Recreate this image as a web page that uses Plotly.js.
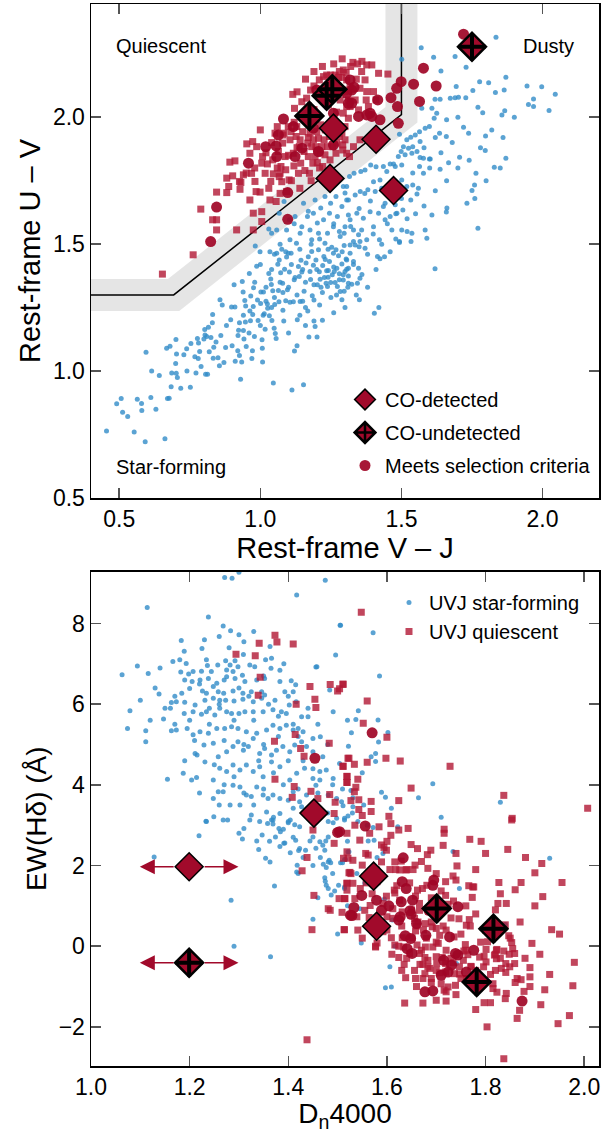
<!DOCTYPE html>
<html><head><meta charset="utf-8">
<script src="https://cdn.plot.ly/plotly-3.0.1.min.js"></script>
<style>html,body{margin:0;padding:0;background:#fff}#chart{width:615px;height:1133px}</style>
</head><body><div id="chart"></div>
<script>
// ---------------- DATA ----------------
// Top panel: rest-frame V-J (x) vs U-V (y), pairs [VJ, UV]
const uvjStarForming = [
[0.455,0.764],[0.491,0.871],[0.507,0.892],[0.512,0.838],[0.530,0.821],[0.553,0.760],[0.564,0.889],[0.579,0.872],[0.580,0.845],[0.592,0.722],[0.595,1.074],[0.615,1.000],[0.612,0.896],[0.630,0.850],[0.642,0.983],[0.662,0.733],[0.671,0.892],[0.677,0.893],[0.668,1.090],[0.680,1.098],[0.686,0.992],[0.684,0.938],[0.701,1.124],[0.702,0.991],[0.706,0.975],[0.703,1.067],[0.718,0.932],[0.729,1.064],[0.739,1.088],[0.752,0.936],[0.754,1.109],[0.768,1.056],[0.772,0.992],[0.777,1.128],[0.781,1.111],[0.785,1.077],[0.790,1.018],[0.800,1.126],[0.803,1.164],[0.806,0.987],[0.813,0.987],[0.816,1.173],[0.804,1.142],[0.810,1.136],[0.819,1.076],[0.825,1.132],[0.831,1.223],[0.833,1.051],[0.835,1.094],[0.843,1.115],[0.850,1.052],[0.855,1.021],[0.857,1.281],[0.865,1.260],[0.871,1.034],[0.877,1.093],[0.895,1.202],[0.898,1.252],[0.907,1.340],[0.910,1.252],[0.911,1.039],[0.921,1.140],[0.926,1.061],[0.923,1.161],[0.926,1.190],[0.930,0.968],[0.934,1.036],[0.936,1.353],[0.939,1.311],[0.940,1.160],[0.942,1.126],[0.945,1.278],[0.947,1.193],[0.948,1.256],[0.950,1.097],[0.961,1.384],[0.963,1.237],[0.965,1.198],[0.966,1.296],[0.972,1.080],[0.973,1.223],[0.975,1.254],[0.976,1.328],[0.979,1.136],[0.982,1.493],[0.987,1.413],[0.992,1.199],[0.999,1.470],[1.001,1.266],[1.002,1.311],[1.006,1.123],[1.007,1.090],[1.008,1.036],[1.011,1.311],[1.014,1.226],[1.017,1.165],[1.020,1.275],[1.025,1.264],[1.026,1.247],[1.030,1.384],[1.032,1.218],[1.034,1.470],[1.037,1.363],[1.039,1.341],[1.041,1.199],[1.044,1.316],[1.046,0.953],[1.049,1.169],[1.051,1.262],[1.053,1.148],[1.056,1.128],[1.058,1.464],[1.062,1.421],[1.064,1.317],[1.066,1.273],[1.067,1.438],[1.072,1.387],[1.076,1.480],[1.079,1.346],[1.083,1.197],[1.086,1.401],[1.090,1.277],[1.093,1.449],[1.096,1.320],[1.099,1.464],[1.103,1.390],[1.105,1.271],[1.109,1.464],[1.112,0.925],[1.117,1.273],[1.121,1.079],[1.123,1.369],[1.128,1.504],[1.131,1.202],[1.135,1.412],[1.138,1.373],[1.141,1.274],[1.144,1.437],[1.147,1.390],[1.150,1.275],[1.153,0.946],[1.155,1.314],[1.162,1.426],[1.168,1.237],[1.172,1.134],[1.176,1.392],[1.178,1.361],[1.182,1.471],[1.184,1.297],[1.188,1.417],[1.190,1.197],[1.194,1.176],[1.197,1.438],[1.201,1.134],[1.202,1.340],[1.206,1.478],[1.209,1.391],[1.212,1.362],[1.215,1.330],[1.221,1.416],[1.225,1.451],[1.227,1.369],[1.229,1.504],[1.233,1.346],[1.235,1.395],[1.238,1.333],[1.241,1.396],[1.245,1.432],[1.249,1.349],[1.253,1.488],[1.255,1.379],[1.259,1.464],[1.262,1.392],[1.265,1.349],[1.268,1.478],[1.271,1.405],[1.273,1.333],[1.277,1.454],[1.280,1.383],[1.283,1.313],[1.289,1.422],[1.294,1.359],[1.297,1.495],[1.300,1.392],[1.304,1.441],[1.306,1.401],[1.312,1.375],
[1.040,1.543],[1.058,1.556],[1.067,1.622],[1.084,1.668],[1.093,1.556],[1.103,1.596],[1.105,1.517],[1.123,1.609],[1.141,1.543],[1.147,1.569],[1.153,1.661],[1.167,1.609],[1.176,1.556],[1.182,1.517],[1.188,1.622],[1.194,1.674],[1.202,1.583],[1.206,1.543],[1.214,1.642],[1.224,1.596],[1.229,1.688],[1.238,1.543],[1.245,1.622],[1.249,1.661],[1.259,1.569],[1.268,1.688],[1.273,1.609],[1.283,1.530],[1.289,1.648],[1.294,1.727],[1.300,1.569],[1.306,1.674],[1.312,1.615],[1.316,1.766],
[1.570,2.274],[1.501,2.228],[1.614,2.236],[1.690,2.239],[1.835,2.315],[1.729,2.197],[1.640,2.182],[1.694,2.121],[1.777,2.140],[1.809,2.136],[1.870,2.157],[1.833,2.097],[1.864,2.107],[1.945,2.123],[1.997,2.120],[2.045,2.090],[1.968,2.072],[1.968,2.042],[2.023,2.026],[1.753,2.105],[1.619,2.071],[1.637,2.071],[1.673,2.075],[1.690,2.077],[1.702,2.079],[1.728,2.077],[1.771,2.039],[1.788,2.018],[1.856,2.009],[1.866,2.025],[1.572,2.035],[1.608,2.035],[1.625,2.016],[1.616,1.996],[1.599,1.963],[1.584,1.957],[1.564,1.943],[1.549,1.930],[1.533,1.921],[1.519,1.911],[1.507,1.884],[1.493,1.933],[1.499,1.865],[1.525,1.878],[1.540,1.884],[1.566,1.904],[1.635,1.937],[1.659,1.924],[1.738,1.937],[1.798,1.926],[1.797,1.869],[1.870,1.838],[1.829,1.803],[1.764,1.779],[1.759,1.733],[1.750,1.711],[1.732,1.661],[1.771,1.563],[1.706,1.842],[1.667,1.821],[1.637,1.795],[1.602,1.835],[1.578,1.838],[1.564,1.806],[1.555,1.865],[1.537,1.858],[1.513,1.852],[1.489,1.845],[1.472,1.816],[1.448,1.786],[1.436,1.806],[1.424,1.753],[1.401,1.746],[1.381,1.714],[1.391,1.812],[1.371,1.792],[1.356,1.786],[1.332,1.779],[1.306,1.727],[1.300,1.701],[1.312,1.674],[1.336,1.694],[1.354,1.707],[1.407,1.707],[1.442,1.661],[1.478,1.655],[1.501,1.753],[1.519,1.727],[1.540,1.733],[1.555,1.698],[1.533,1.674],[1.505,1.635],[1.484,1.622],[1.460,1.609],[1.436,1.648],[1.419,1.622],[1.389,1.628],[1.365,1.602],[1.342,1.622],[1.318,1.596],[1.297,1.543],[1.330,1.556],[1.359,1.556],[1.401,1.569],[1.442,1.596],[1.466,1.556],[1.501,1.556],[1.537,1.543],[1.584,1.556],[1.590,1.523],[1.608,1.615],[1.661,1.642],[1.659,1.627],[1.493,1.510],[1.422,1.517],[1.377,1.517],[1.348,1.537],[1.318,1.497],[1.371,1.484],[1.410,1.805],[1.460,1.816],[1.478,1.806],[1.501,1.812],[1.578,1.779],[1.599,1.835],[1.566,1.841],
[1.493,1.506],[1.534,1.510],[1.415,1.451],[1.424,1.442],[1.619,1.403],[1.306,1.438],[1.330,1.432],[1.312,1.405],[1.348,1.405],[1.353,1.366],[1.294,1.379],[1.312,1.346],[1.324,1.342],[1.344,1.346],[1.297,1.314],[1.289,1.281],[1.351,1.281],[1.404,1.228],[1.318,1.464],[1.336,1.497],[1.353,1.510],
[0.98,1.35],[1.00,1.42],[1.02,1.33],[1.04,1.40],[1.05,1.29],[1.07,1.35],[1.08,1.24],[1.10,1.33],[1.11,1.42],[1.13,1.30],[1.14,1.22],[1.16,1.35],[1.17,1.45],[1.19,1.28],[1.20,1.40],[1.22,1.31],[1.23,1.44],[1.25,1.29],[1.26,1.41],[1.28,1.36],[1.29,1.47],[1.31,1.33],[1.33,1.42],[1.35,1.49],[1.36,1.38],[1.38,1.46],[1.40,1.54],[1.41,1.40],[1.43,1.50],[1.45,1.58],[1.46,1.47],[1.48,1.62],[1.50,1.68],[1.52,1.60],[1.54,1.78],[1.56,1.72],[1.58,1.88],[1.60,1.80],[1.62,1.92],[1.64,1.86],[1.66,1.99],[1.68,1.90],[1.70,2.00],[1.72,1.96],[1.10,1.15],[1.13,1.10],[1.16,1.18],[1.22,1.20],[1.26,1.23],[1.30,1.25],[1.34,1.30],[1.38,1.33],[1.00,1.18],[0.97,1.05],[0.90,1.10],[0.88,1.18],[0.94,1.22],[0.99,1.28],[1.03,1.56],[1.07,1.50],[1.12,1.58],[1.17,1.63],[1.21,1.52],[1.26,1.58],[1.32,1.57],[1.35,1.64],[1.37,1.70],[1.39,1.67],[1.43,1.72],[1.46,1.69],[1.33,1.51],[1.28,1.55],[1.24,1.48],[1.18,1.50],[1.14,1.48],[1.09,1.47],[1.05,1.46],[1.15,1.40],[1.19,1.34],[1.24,1.37],[1.27,1.30],[1.21,1.26],[1.16,1.25],[1.12,1.36],[1.08,1.31],[1.04,1.25],[1.01,1.22],[0.96,1.15],[0.92,1.08],[0.86,1.14],[0.83,1.19],[0.78,1.05],[0.74,1.00],[0.70,1.03],[1.44,1.45],[1.48,1.52],[1.52,1.55],[1.55,1.62],[1.58,1.65],[1.62,1.71],[1.66,1.75],[1.70,1.80],[1.74,1.83],[1.78,1.88],[1.82,1.95],[1.86,1.92],[1.90,2.00],[1.95,2.05],[1.76,1.68],[1.80,1.75],[1.85,1.80],[1.42,1.25]
];
const uvjQuiescent = [
[0.789,1.638],[0.831,1.596],[0.845,1.705],[0.845,1.596],[0.881,1.703],[0.888,1.727],[0.892,1.823],[0.902,1.769],[0.910,1.828],[0.928,1.716],[0.931,1.743],[0.940,1.773],[0.952,1.895],[0.963,1.674],[0.969,1.779],[0.973,1.904],[0.975,1.622],[0.985,1.707],[0.987,1.884],[0.999,1.705],[1.005,1.628],[1.005,1.819],[1.008,1.845],[1.017,1.779],[1.025,1.816],[1.034,1.674],[1.044,1.832],[1.046,1.777],[1.052,1.937],[1.056,1.668],[1.060,1.963],[1.064,1.865],[1.067,1.766],[1.070,1.779],[1.076,1.746],[1.079,1.898],[1.084,1.937],[1.088,1.845],[1.093,1.707],[1.099,1.963],[1.102,1.753],[1.105,1.911],[1.109,1.943],[1.115,2.090],[1.117,1.858],[1.119,1.808],[1.121,2.035],[1.127,1.924],[1.129,1.963],[1.135,1.779],[1.138,1.884],[1.141,1.911],[1.143,1.819],[1.147,2.061],[1.150,1.943],[1.155,1.865],[1.158,1.790],[1.164,2.075],[1.168,1.898],[1.170,1.845],[1.174,1.779],[1.176,1.937],[1.178,2.107],[1.182,1.884],[1.186,1.819],[1.188,1.911],[1.190,2.123],[1.194,1.845],[1.197,1.884],[1.200,1.943],[1.202,1.821],[1.206,1.917],[1.209,2.147],[1.212,1.858],[1.214,1.970],[1.218,1.884],[1.221,1.806],[1.224,2.160],[1.226,1.911],[1.229,1.852],[1.235,2.166],[1.238,1.884],[1.241,2.048],[1.245,1.924],[1.247,1.832],[1.249,2.166],[1.257,1.884],[1.259,2.147],[1.261,1.924],[1.265,2.166],[1.268,1.858],[1.271,1.898],[1.277,2.157],[1.280,1.924],[1.283,2.068],[1.289,2.157],[1.292,1.871],[1.294,2.107],[1.300,1.963],[1.304,2.176],[1.306,2.042],[1.312,2.068],[1.316,1.845],[0.881,1.760],[0.926,1.747],[0.963,1.858],[0.981,1.747],[1.037,1.747],[1.073,1.806],[1.090,1.793],[0.975,1.556],[0.845,1.556],[1.005,1.589],[0.916,1.556],
[1.328,2.216],[1.344,2.210],[1.359,2.180],[1.377,2.206],[1.395,2.206],[1.419,2.173],[1.452,2.170],[1.371,2.147],[1.294,2.186],[1.306,2.147],[1.318,2.121],[1.353,2.114],[1.377,2.101],[1.401,2.101],[1.375,2.068],[1.410,2.068],[1.336,2.068],[1.318,2.042],[1.294,2.016],[1.348,2.029],[1.383,2.042],[1.312,1.996],[1.289,1.937],[1.330,1.884],[1.306,1.858],[1.353,1.911],[1.300,1.911],[1.292,1.891],
[0.762,1.458],[0.653,1.382],
[1.02,1.86],[1.04,1.90],[1.06,1.80],[1.08,1.93],[1.10,1.85],[1.12,1.98],[1.13,1.88],[1.15,2.00],[1.17,1.92],[1.19,2.03],[1.20,1.87],[1.22,2.08],[1.23,1.95],[1.25,2.12],[1.27,2.02],[1.28,2.18],[1.30,2.10],[1.32,2.20],[1.34,2.15],[1.36,2.22],[1.13,2.10],[1.16,2.15],[1.19,2.18],[1.22,2.20],[1.26,2.21],[1.29,2.23],[0.98,1.80],[0.95,1.78],[1.00,1.95],[1.03,1.72],[1.07,1.70],[1.11,1.75],[1.14,1.72],[1.18,1.75],[1.21,1.80]
];
const uvjSelected = [
[0.824,1.510],[0.845,1.646],[0.958,1.819],[1.082,1.993],[1.019,1.884],[1.056,1.887],[1.064,1.930],[1.097,1.703],[1.097,1.598],[1.117,1.963],[1.188,1.957],[1.259,1.891],[1.206,1.865],[1.148,1.878],[1.058,1.845],[1.123,1.845],[1.200,2.107],[1.312,2.055],[1.259,2.016],
[1.720,2.327],[1.578,2.193],[1.623,2.123],[1.543,2.130],[1.499,2.140],[1.483,2.114],[1.463,2.077],[1.564,2.062],[1.486,2.042],[1.489,1.976],[1.416,2.068],[1.389,2.016],[1.424,1.990],[1.395,2.003],[1.318,2.147],[1.324,2.107],[1.332,2.118],[1.348,2.003],[1.306,2.094],[1.324,2.055],[1.377,2.009]
];
const uvjCoDetected = [[1.259,1.957],[1.247,1.759],[1.410,1.913],[1.472,1.711]];
const uvjCoUndetected = [[1.174,2.005],[1.235,2.085],[1.255,2.110],[1.750,2.278]];
// Quiescent selection boundary (U-V > 1.3, U-V > 0.88(V-J)+0.69, V-J < 1.5)
const boundaryVJ = [0.3, 0.693, 1.5, 1.5];
const boundaryUV = [1.3, 1.3, 2.01, 2.6];

// Bottom panel: Dn4000 (x) vs EW(Hdelta) (y), pairs [Dn4000, EW]
const specStarForming = [
[1.271,9.14],[1.286,9.12],[1.300,9.27],[1.475,9.07],[1.417,8.71],[1.114,8.40],[1.238,8.16],[1.505,7.96],[1.268,7.94],[1.283,7.82],[1.260,7.68],[1.300,7.72],[1.183,7.58],[1.310,7.55],[1.363,7.43],[1.225,7.38],[1.189,7.31],[1.309,7.23],[1.292,7.08],[1.273,7.08],[1.094,6.95],[1.166,7.06],[1.193,7.01],[1.234,7.10],[1.257,6.97],[1.282,6.97],[1.298,6.93],[1.322,6.97],[1.354,7.10],[1.366,7.14],[1.391,7.00],[1.383,6.84],[1.236,6.96],[1.063,6.73],[1.116,6.76],[1.182,6.80],[1.198,6.75],[1.207,6.81],[1.224,6.82],[1.244,6.81],[1.275,6.85],[1.288,6.81],[1.307,6.72],[1.332,6.93],[1.365,6.89],[1.456,6.92],[1.458,6.93],[1.496,7.22],[1.190,6.60],[1.205,6.56],[1.221,6.60],[1.238,6.64],[1.255,6.52],[1.275,6.68],[1.292,6.64],[1.312,6.56],[1.336,6.60],[1.352,6.64],[1.383,6.56],[1.406,6.58],[1.415,6.48],[1.138,6.25],[1.184,6.27],[1.200,6.39],[1.226,6.33],[1.234,6.27],[1.248,6.44],[1.258,6.31],[1.269,6.27],[1.288,6.33],[1.308,6.27],[1.325,6.31],[1.346,6.31],[1.352,6.23],[1.393,6.31],[1.410,6.31],[1.484,6.35],[1.079,5.84],[1.163,6.04],[1.173,6.06],[1.190,6.05],[1.211,5.98],[1.231,6.10],[1.248,6.15],[1.261,6.10],[1.273,6.10],[1.290,6.08],[1.308,6.12],[1.329,6.06],[1.346,6.15],[1.373,6.10],[1.402,5.98],[1.416,6.06],[1.491,5.81],[1.074,5.40],[1.111,5.34],[1.147,5.63],[1.161,5.90],[1.189,5.77],[1.207,5.81],[1.224,5.75],[1.234,5.81],[1.251,5.73],[1.261,5.90],[1.275,5.81],[1.285,5.77],[1.300,5.77],[1.312,5.81],[1.329,5.81],[1.349,5.81],[1.369,5.86],[1.386,5.81],[1.396,5.77],[1.427,5.69],[1.440,5.69],[1.163,5.34],[1.173,5.36],[1.195,5.40],[1.207,5.24],[1.221,5.32],[1.238,5.28],[1.255,5.40],[1.271,5.40],[1.285,5.44],[1.298,5.40],[1.315,5.32],[1.336,5.28],[1.356,5.36],[1.369,5.48],[1.383,5.40],[1.396,5.48],[1.410,5.36],[1.420,5.40],[1.430,5.32],[1.450,5.15],[1.465,5.19],[1.111,5.07],[1.211,4.78],[1.215,4.74],[1.229,4.99],[1.248,5.03],[1.258,4.70],[1.275,4.82],[1.288,4.95],[1.298,5.07],[1.309,4.86],[1.319,4.95],[1.329,5.15],[1.342,4.78],[1.352,4.90],[1.366,4.74],[1.376,4.86],[1.389,4.95],[1.403,4.82],[1.413,4.99],[1.427,5.07],[1.437,4.95],[1.450,4.82],[1.155,4.14],[1.187,4.29],[1.204,4.12],[1.214,4.18],[1.231,4.57],[1.248,4.12],[1.261,4.41],[1.275,4.33],[1.288,4.49],[1.302,4.37],[1.315,4.49],[1.329,4.33],[1.342,4.45],[1.349,4.20],[1.366,4.57],[1.383,4.45],[1.403,4.12],[1.417,4.29],[1.433,4.41],[1.450,4.16],[1.464,4.33],[1.477,4.37],[1.491,4.16],[1.504,4.53],[1.248,3.66],[1.258,3.83],[1.268,3.83],[1.288,3.99],[1.302,3.95],[1.315,3.75],[1.325,3.71],[1.336,3.95],[1.349,3.75],[1.359,3.66],[1.369,3.75],[1.383,3.66],[1.400,3.62],[1.410,3.83],[1.423,3.58],[1.437,3.75],[1.456,3.99],[1.464,4.12],[1.481,3.75],[1.498,3.66],[1.508,3.58],[1.234,3.09],[1.249,3.21],[1.268,3.13],[1.282,3.50],[1.302,3.50],[1.325,3.25],[1.342,3.09],[1.356,3.33],[1.369,3.13],[1.383,3.29],[1.400,3.09],[1.410,3.42],[1.427,3.46],[1.444,3.17],[1.481,3.09],[1.498,3.17],
[1.506,7.96],[1.572,7.77],[1.585,6.70],[1.542,5.84],[1.537,5.62],[1.582,5.61],[1.528,5.29],[1.602,5.30],[1.583,5.06],[1.522,4.96],[1.577,4.78],[1.568,4.70],[1.577,4.58],[1.693,4.03],[1.589,3.82],[1.597,3.69],[1.664,3.68],[1.830,3.57],[1.710,3.20],[1.527,3.86],[1.531,3.68],[1.511,3.48],[1.553,3.50],[1.531,3.46],[1.609,3.42],[1.514,3.17],[1.521,3.23],
[1.233,3.10],[1.277,3.13],[1.322,3.13],[1.366,3.13],[1.400,3.06],[1.404,3.13],[1.219,2.74],[1.310,2.92],[1.307,2.66],[1.336,2.61],[1.347,2.76],[1.358,3.04],[1.369,3.03],[1.381,2.92],[1.384,2.84],[1.362,2.60],[1.374,2.71],[1.383,2.47],[1.391,2.55],[1.393,2.56],[1.404,2.32],[1.413,3.01],[1.423,2.96],[1.415,2.63],[1.423,2.42],[1.421,2.37],[1.435,2.38],[1.444,2.61],[1.450,2.71],[1.456,2.43],[1.464,2.59],[1.476,2.61],[1.474,2.38],[1.481,2.71],[1.481,2.09],[1.483,2.13],[1.491,3.06],[1.465,2.20],[1.471,2.03],[1.477,1.95],[1.486,2.07],[1.506,2.07],[1.521,2.34],[1.514,2.15],[1.354,2.18],[1.363,2.09],[1.418,2.01],[1.417,1.84],[1.420,1.80],[1.474,1.70],[1.475,1.61],[1.477,1.51],[1.481,1.43],[1.487,1.27],[1.494,1.37],[1.502,1.51],[1.514,1.47],[1.372,1.49],[1.284,1.14],[1.450,0.67],[1.128,2.21],[1.290,0.00],[1.364,-0.26],
[1.514,3.13],[1.541,3.09],[1.572,2.94],[1.574,2.63],[1.562,2.61],[1.592,2.30],[1.596,2.42],[1.523,2.34],[1.510,2.07],[1.516,2.15],[1.539,1.80],[1.552,1.76],[1.555,1.57],[1.514,1.43],[1.545,0.93],[1.622,2.96],[1.734,2.35],[1.747,1.43],[1.930,2.18],[1.595,1.17],[1.611,0.65],[1.548,0.08],[1.616,0.00],[1.606,-0.51],[1.597,-1.03],[1.609,-1.01],[1.840,0.54],[1.741,-0.43],
[1.17,6.2],[1.20,5.6],[1.22,6.5],[1.24,5.5],[1.26,6.0],[1.27,5.1],[1.29,5.6],[1.30,6.4],[1.31,5.0],[1.33,5.6],[1.34,4.6],[1.35,5.0],[1.36,6.0],[1.37,4.3],[1.38,5.2],[1.39,4.0],[1.40,4.6],[1.41,5.5],[1.42,3.9],[1.43,4.6],[1.44,3.4],[1.45,4.4],[1.46,3.8],[1.47,4.7],[1.48,3.3],[1.49,4.0],[1.50,2.8],[1.51,3.9],[1.52,2.6],[1.53,3.3],[1.25,4.5],[1.27,4.0],[1.29,4.2],[1.31,3.8],[1.33,3.5],[1.35,3.9],[1.37,3.2],[1.39,2.9],[1.41,2.7],[1.43,2.2],[1.45,2.0],[1.47,2.5],[1.49,1.8],[1.24,5.9],[1.21,5.1],[1.19,4.6],[1.17,5.5],[1.15,5.9],[1.13,6.4],[1.10,6.1],[1.12,5.6],[1.14,6.9],[1.18,7.1],[1.23,7.6],[1.28,7.4],[1.33,7.8],[1.27,6.6],[1.32,6.2],[1.35,6.7],[1.38,5.7],[1.40,6.2],[1.42,5.2],[1.44,5.9],[1.46,5.5],[1.48,5.0],[1.52,5.6],[1.55,4.3],[1.56,3.0],[1.58,2.2],[1.34,2.4],[1.30,2.8],[1.26,3.5],[1.22,3.8],[1.46,1.2],[1.52,1.0],[1.56,0.5],[1.50,0.3]
];
const specQuiescent = [
[1.373,7.71],[1.377,7.54],[1.341,7.51],[1.410,7.49],[1.294,7.24],[1.333,7.20],[1.343,6.67],[1.444,6.44],[1.485,6.49],[1.511,6.49],[1.500,6.33],[1.339,6.22],[1.454,6.12],[1.416,6.00],[1.456,5.92],[1.372,5.08],[1.414,5.25],[1.425,4.90],[1.483,5.03],[1.432,4.71],[1.521,4.66],[1.511,4.46],[1.519,4.21],[1.519,4.06],[1.373,4.14],[1.412,3.96],[1.408,3.69],[1.446,3.84],[1.460,3.66],[1.484,3.76],[1.495,3.57],[1.493,3.29],
[1.548,8.28],[1.511,6.50],[1.504,6.38],[1.560,6.08],[1.552,5.53],[1.600,5.18],[1.523,4.66],[1.534,4.51],[1.560,4.56],[1.598,4.66],[1.627,4.59],[1.728,4.46],[1.511,4.46],[1.519,4.21],[1.541,4.14],[1.519,4.06],[1.537,3.94],[1.534,3.83],[1.649,3.92],[1.837,3.74],[1.527,3.61],[1.543,3.63],[1.568,3.59],[1.624,3.61],[1.543,3.39],[1.568,3.34],[1.550,3.24],[1.604,3.22],[2.007,3.42],[1.854,3.17],
[1.450,2.88],[1.493,2.55],[1.438,2.20],[1.428,1.87],[1.452,1.26],[1.503,1.18],[1.515,1.18],[1.481,0.93],[1.485,0.89],[1.509,0.84],[1.448,0.41],[1.513,0.41],[1.521,2.18],[1.523,1.82],[1.519,1.56],[1.519,1.39],[1.438,-2.32],[1.519,2.80],
[1.535,3.00],[1.565,2.80],[1.584,2.96],[1.608,3.04],[1.608,2.75],[1.624,2.88],[1.643,2.92],[1.716,2.90],[1.716,2.80],[1.853,3.13],[1.768,2.65],[1.791,2.60],[1.649,2.52],[1.662,2.42],[1.714,2.50],[1.682,2.27],[1.689,2.38],[1.845,2.40],[1.881,2.20],[1.914,2.05],[1.900,1.82],[1.872,1.58],[1.827,1.58],[1.955,1.58],[1.916,1.23],[1.934,0.41],[1.894,0.07],[1.977,-0.98],[1.970,-1.72],[1.947,-1.92],[1.912,-1.45],[1.920,-1.08],[1.890,-0.53],[1.890,-0.76],[1.878,-1.12],[1.864,-0.80],[1.872,-0.83],[1.869,-1.59],[1.864,-1.79],[1.842,-1.17],[1.823,-1.14],[1.815,-1.05],[1.803,-2.00],[1.797,-1.40],[1.837,-2.79],[1.841,-0.65],[1.841,-0.43],[1.859,-0.18],[1.848,-0.20],[1.837,-0.12],[1.822,-0.10],[1.818,-0.22],[1.797,-0.25],[1.822,-0.31],[1.853,0.09],[1.847,0.26],[1.840,0.53],[1.823,-0.08],[1.804,0.11],[1.801,-0.08],[1.842,1.06],[1.825,1.06],[1.773,1.21],[1.774,1.47],[1.776,1.47],[1.766,1.50],[1.740,1.64],[1.734,1.74],[1.719,1.60],[1.742,1.99],[1.710,1.37],[1.735,1.12],[1.719,1.26],[1.724,1.04],[1.746,0.68],[1.767,0.66],[1.769,0.50],[1.761,0.52],[1.759,0.04],[1.756,-0.12],[1.764,-0.21],[1.736,0.23],[1.707,0.27],[1.700,0.44],[1.692,0.48],[1.714,0.50],[1.678,0.56],[1.674,0.40],[1.663,0.60],[1.658,0.38],[1.651,0.21],[1.631,0.21],[1.624,0.00],[1.624,-0.28],[1.635,-0.45],[1.638,-0.78],[1.658,-0.80],[1.667,-0.45],[1.677,-0.28],[1.683,-0.35],[1.687,-0.55],[1.673,-0.80],[1.690,-0.80],[1.700,-0.26],[1.701,-0.43],[1.712,-0.28],[1.719,-0.43],[1.734,-0.41],[1.700,-1.34],[1.716,-1.09],[1.720,-1.36],[1.739,-0.97],[1.747,-0.69],[1.761,-0.80],[1.780,-1.57],[1.636,-1.41],[1.673,-1.41],[1.634,-0.02],[1.616,0.03],[1.609,0.21],[1.592,0.36],[1.577,-0.02],[1.580,0.08],[1.541,0.40],[1.514,0.41],[1.539,0.73],[1.564,0.71],[1.600,0.73],[1.612,0.69],[1.656,0.69],[1.666,0.89],[1.666,1.06],[1.658,1.24],[1.662,1.39],[1.672,1.43],[1.681,1.51],[1.646,1.57],[1.615,1.39],[1.616,1.32],[1.599,1.24],[1.592,1.06],[1.566,1.01],[1.555,0.89],[1.535,1.18],[1.514,1.18],[1.519,1.56],[1.527,1.80],[1.531,1.56],[1.546,1.43],[1.558,1.57],[1.579,1.89],[1.606,1.90],[1.618,1.90],[1.626,1.89],[1.639,1.89],[1.653,1.90],[1.657,2.01],[1.683,1.93],[1.629,2.11],[1.616,2.09],[1.599,2.38],[1.594,2.45],[1.589,2.51],[1.562,2.26],[1.557,2.30],[1.550,2.01],[1.525,1.83],[1.512,2.18],[1.531,2.13],[1.545,2.63],[1.519,2.34],[1.589,2.09],[1.626,1.14],[1.612,0.93],[1.631,0.85],[1.584,0.55],[1.577,0.00],[1.788,-0.27],[1.796,-0.51],[1.801,-0.39],[1.820,-0.60],[1.832,-0.55],[1.849,-0.51],[1.855,-0.06],[1.859,-0.43],[1.784,-0.80],[1.815,-0.93],[1.710,-0.93],[1.737,-0.68],[1.677,-0.68],[1.656,-0.60],[1.693,-0.02],[1.704,0.07],[1.678,-0.02],[1.661,0.03],[1.646,-0.18],[1.666,-0.18],[1.683,-0.51],[1.673,-0.45],[1.747,-0.51],[1.755,-0.35],[1.771,-0.51],[1.719,-0.64],[1.707,-0.66],[1.724,-1.01],[1.720,-1.13],
[1.58,1.6],[1.60,0.4],[1.62,1.5],[1.63,-0.6],[1.65,0.9],[1.66,-1.0],[1.68,0.2],[1.69,1.2],[1.70,-0.6],[1.71,0.9],[1.72,-0.1],[1.73,0.7],[1.74,-1.2],[1.75,0.3],[1.76,1.0],[1.77,-0.5],[1.78,0.8],[1.79,-1.0],[1.80,0.4],[1.81,-0.7],[1.82,0.9],[1.83,-0.3],[1.84,-1.3],[1.85,0.2],[1.86,-0.9],[1.87,0.6],[1.88,-0.3],[1.89,-1.0],[1.91,-0.2],[1.93,-0.7],[1.60,2.6],[1.64,1.9],[1.67,2.1],[1.70,1.8],[1.74,2.3],[1.78,1.9],[1.80,2.3],[1.83,1.3],[1.86,1.4],[1.90,1.0],[1.95,0.3],[1.98,-0.4],[1.55,0.2],[1.57,1.3],[1.61,-0.2],[1.64,-0.3],[1.67,-0.1],[1.70,0.1],[1.73,-0.3],[1.76,-0.1],[1.79,0.1],[1.82,-0.2],[1.66,0.5],[1.69,0.6],[1.72,0.4],[1.75,-0.8],[1.78,-0.6],[1.81,-1.4],[1.69,-0.9],[1.63,0.5]
];
const specSelected = [
[1.454,4.66],[1.570,5.29],[1.500,2.82],[1.526,0.77],
[1.556,2.98],[1.504,2.84],[1.633,2.19],[1.549,1.26],[1.579,1.14],[1.589,0.89],[1.604,1.00],[1.533,0.96],[1.529,0.76],[1.631,1.60],[1.639,1.43],[1.652,1.14],[1.629,1.10],[1.647,0.88],[1.649,0.79],[1.624,0.65],[1.637,0.26],[1.648,0.19],[1.641,-0.06],[1.651,-0.18],[1.679,0.27],[1.695,1.64],[1.693,1.51],[1.744,0.98],[1.727,0.23],[1.744,-0.22],[1.731,-0.47],[1.724,-0.64],[1.710,-0.72],[1.693,-1.11],[1.677,-1.13],[1.776,-0.10],[1.761,-0.64],[1.874,-1.36],[1.715,-0.35],[1.739,-0.18],[1.627,0.73],[1.660,0.56],[1.685,0.89]
];
const specCoDetected = [[1.452,3.30],[1.573,1.737],[1.579,0.496],[1.199,1.97]];
const specCoUndetected = [[1.701,0.935],[1.816,0.43],[1.782,-0.886],[1.199,-0.41]];
// Galaxies whose Dn4000 is unconstrained (drawn with two-sided arrows)
const limitDn = [1.199, 1.199];
const limitEw = [1.97, -0.41];
const limitArrowHalfLength = 0.1;

// Tick labels
const uvjTicks = [0.5, 1.0, 1.5, 2.0];
const dnTicks = [1.0, 1.2, 1.4, 1.6, 1.8, 2.0];
const ewTicks = [-2, 0, 2, 4, 6, 8];

// ---------------- STYLE ----------------
const FONT = '"Liberation Sans", Arial, Helvetica, sans-serif';
const W = 615, H = 1133;
const BLUE = 'rgba(50,140,200,0.8)';
const QRED = 'rgba(178,24,53,0.8)';
const SRED = 'rgba(160,5,38,0.92)';
const DRED = '#a10a2b';
const xs = a => a.map(p => p[0]);
const ys = a => a.map(p => p[1]);

function axis(extra) {
  return Object.assign({
    showline: true, linecolor: '#000', linewidth: 1.5, mirror: 'ticks',
    ticks: 'inside', ticklen: 10, tickwidth: 1.5, tickcolor: '#555',
    showgrid: false, zeroline: false,
    tickfont: {family: FONT, size: 23, color: '#000'}
  }, extra);
}

const traces = [
  // top panel
  {x: boundaryVJ, y: boundaryUV, xaxis: 'x', yaxis: 'y', mode: 'lines',
   line: {color: 'rgba(0,0,0,0.1)', width: 32}, showlegend: false, hoverinfo: 'skip'},
  {x: boundaryVJ, y: boundaryUV, xaxis: 'x', yaxis: 'y', mode: 'lines',
   line: {color: '#000', width: 1.5}, showlegend: false, hoverinfo: 'skip'},
  {x: xs(uvjStarForming), y: ys(uvjStarForming), xaxis: 'x', yaxis: 'y', mode: 'markers', type: 'scatter',
   marker: {color: BLUE, size: 5, symbol: 'circle'}, showlegend: false},
  {x: xs(uvjQuiescent), y: ys(uvjQuiescent), xaxis: 'x', yaxis: 'y', mode: 'markers',
   marker: {color: QRED, size: 7, symbol: 'square'}, showlegend: false},
  {x: xs(uvjSelected), y: ys(uvjSelected), xaxis: 'x', yaxis: 'y', mode: 'markers',
   marker: {color: SRED, size: 11, symbol: 'circle'}, showlegend: false},
  {x: xs(uvjCoDetected), y: ys(uvjCoDetected), xaxis: 'x', yaxis: 'y', mode: 'markers', name: 'CO-detected',
   marker: {color: DRED, size: 21.5, symbol: 'diamond', line: {color: '#000', width: 1.5}},
   legend: 'legend', legendgroup: 'a', showlegend: true},
  {x: xs(uvjCoUndetected), y: ys(uvjCoUndetected), xaxis: 'x', yaxis: 'y', mode: 'markers', name: 'CO-undetected',
   marker: {color: DRED, size: 21.5, symbol: 'diamond-cross', line: {color: '#000', width: 2.5}},
   legend: 'legend', legendgroup: 'b', showlegend: true},
  {x: xs(uvjCoUndetected), y: ys(uvjCoUndetected), xaxis: 'x', yaxis: 'y', mode: 'markers',
   marker: {color: '#000', size: 19.5, symbol: 'cross-thin', line: {color: '#000', width: 4}}, showlegend: false},
  {x: [null], y: [null], xaxis: 'x', yaxis: 'y', mode: 'markers', name: 'Meets selection criteria',
   marker: {color: SRED, size: 11, symbol: 'circle'}, legend: 'legend', legendgroup: 'c', showlegend: true},
  // bottom panel
  {x: xs(specStarForming), y: ys(specStarForming), xaxis: 'x2', yaxis: 'y2', mode: 'markers', name: 'UVJ star-forming',
   marker: {color: BLUE, size: 5, symbol: 'circle'}, legend: 'legend2', legendgroup: 'd', showlegend: true},
  {x: xs(specQuiescent), y: ys(specQuiescent), xaxis: 'x2', yaxis: 'y2', mode: 'markers', name: 'UVJ quiescent',
   marker: {color: QRED, size: 7, symbol: 'square'}, legend: 'legend2', legendgroup: 'e', showlegend: true},
  {x: xs(specSelected), y: ys(specSelected), xaxis: 'x2', yaxis: 'y2', mode: 'markers',
   marker: {color: SRED, size: 11, symbol: 'circle'}, showlegend: false},
  {x: xs(specCoDetected), y: ys(specCoDetected), xaxis: 'x2', yaxis: 'y2', mode: 'markers',
   marker: {color: DRED, size: 21.5, symbol: 'diamond', line: {color: '#000', width: 1.5}}, showlegend: false},
  {x: xs(specCoUndetected), y: ys(specCoUndetected), xaxis: 'x2', yaxis: 'y2', mode: 'markers',
   marker: {color: DRED, size: 21.5, symbol: 'diamond-cross', line: {color: '#000', width: 2.5}}, showlegend: false},
  {x: xs(specCoUndetected), y: ys(specCoUndetected), xaxis: 'x2', yaxis: 'y2', mode: 'markers',
   marker: {color: '#000', size: 19.5, symbol: 'cross-thin', line: {color: '#000', width: 4}}, showlegend: false}
];

const annotations = [
  {text: 'Quiescent', xref: 'paper', yref: 'paper', x: 114/W, y: 1 - 46/H, xanchor: 'left', yanchor: 'middle', showarrow: false, font: {family: FONT, size: 20, color: '#000'}},
  {text: 'Dusty', xref: 'paper', yref: 'paper', x: 521/W, y: 1 - 46/H, xanchor: 'left', yanchor: 'middle', showarrow: false, font: {family: FONT, size: 20, color: '#000'}},
  {text: 'Star-forming', xref: 'paper', yref: 'paper', x: 114/W, y: 1 - 467/H, xanchor: 'left', yanchor: 'middle', showarrow: false, font: {family: FONT, size: 20, color: '#000'}}
];
limitDn.forEach((d, i) => {
  [-1, 1].forEach(s => {
    annotations.push({
      x: d + s * limitArrowHalfLength, y: limitEw[i], ax: d, ay: limitEw[i],
      xref: 'x2', yref: 'y2', axref: 'x2', ayref: 'y2', text: '', showarrow: true,
      arrowhead: 2, arrowsize: 2, arrowwidth: 1.5, arrowcolor: DRED, startstandoff: 14
    });
  });
});

const layout = {
  width: W, height: H, margin: {l: 0, r: 0, t: 0, b: 0},
  paper_bgcolor: '#fff', plot_bgcolor: 'rgba(0,0,0,0)',
  font: {family: FONT, color: '#000'},
  xaxis: axis({domain: [91/W, 599/W], range: [0.4, 2.2], anchor: 'y', tickvals: uvjTicks, tickformat: '.1f',
    title: {text: 'Rest-frame V – J', font: {family: FONT, size: 29, color: '#000'}, standoff: 4}}),
  yaxis: axis({domain: [1 - 498/H, 1 - 4/H], range: [0.5, 2.446], anchor: 'x', tickvals: uvjTicks, tickformat: '.1f',
    title: {text: 'Rest-frame U – V', font: {family: FONT, size: 29, color: '#000'}, standoff: 4}}),
  xaxis2: axis({domain: [91/W, 599/W], range: [1.0, 2.03], anchor: 'y2', tickvals: dnTicks, tickformat: '.1f',
    title: {text: 'D<sub>n</sub>4000', font: {family: FONT, size: 28, color: '#000'}, standoff: 3}}),
  yaxis2: axis({domain: [1 - 1066/H, 1 - 571.5/H], range: [-2.97, 9.29], anchor: 'x2', tickvals: ewTicks,
    title: {text: 'EW(Hδ) (Å)', font: {family: FONT, size: 28, color: '#000'}, standoff: 4}}),
  legend: {x: 345/W, y: 1 - 380/H, xanchor: 'left', yanchor: 'top', bgcolor: 'rgba(0,0,0,0)', borderwidth: 0,
    font: {family: FONT, size: 20, color: '#000'}, tracegroupgap: 4, traceorder: 'grouped'},
  legend2: {x: 389/W, y: 1 - 583/H, xanchor: 'left', yanchor: 'top', bgcolor: 'rgba(0,0,0,0)', borderwidth: 0,
    font: {family: FONT, size: 20, color: '#000'}, tracegroupgap: 0, traceorder: 'grouped'},
  annotations: annotations,
  showlegend: true
};

Plotly.newPlot('chart', traces, layout, {displayModeBar: false, staticPlot: true});
</script></body></html>
